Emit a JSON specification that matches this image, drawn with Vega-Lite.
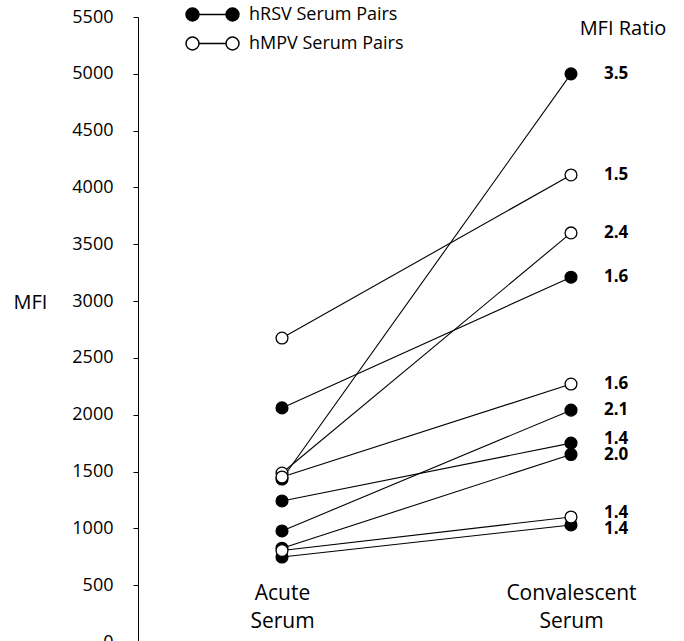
{
  "$schema": "https://vega.github.io/schema/vega-lite/v6.json",
  "width": 546,
  "height": 625,
  "autosize": "none",
  "padding": {"left": 138, "top": 17, "right": 0, "bottom": 0},
  "background": "white",
  "config": {"font": "Open Sans", "view": {"stroke": null}},
  "data": {"values": [
    {"pair": "R1", "series": "hRSV Serum Pairs", "stage": "Acute Serum", "mfi": 1434, "ratio": "3.5"},
    {"pair": "R1", "series": "hRSV Serum Pairs", "stage": "Convalescent Serum", "mfi": 5000, "ratio": "3.5"},
    {"pair": "R2", "series": "hRSV Serum Pairs", "stage": "Acute Serum", "mfi": 2060, "ratio": "1.6"},
    {"pair": "R2", "series": "hRSV Serum Pairs", "stage": "Convalescent Serum", "mfi": 3210, "ratio": "1.6"},
    {"pair": "R3", "series": "hRSV Serum Pairs", "stage": "Acute Serum", "mfi": 977, "ratio": "2.1"},
    {"pair": "R3", "series": "hRSV Serum Pairs", "stage": "Convalescent Serum", "mfi": 2040, "ratio": "2.1"},
    {"pair": "R4", "series": "hRSV Serum Pairs", "stage": "Acute Serum", "mfi": 1241, "ratio": "1.4"},
    {"pair": "R4", "series": "hRSV Serum Pairs", "stage": "Convalescent Serum", "mfi": 1750, "ratio": "1.4"},
    {"pair": "R5", "series": "hRSV Serum Pairs", "stage": "Acute Serum", "mfi": 825, "ratio": "2.0"},
    {"pair": "R5", "series": "hRSV Serum Pairs", "stage": "Convalescent Serum", "mfi": 1650, "ratio": "2.0"},
    {"pair": "R6", "series": "hRSV Serum Pairs", "stage": "Acute Serum", "mfi": 748, "ratio": "1.4"},
    {"pair": "R6", "series": "hRSV Serum Pairs", "stage": "Convalescent Serum", "mfi": 1030, "ratio": "1.4"},
    {"pair": "M1", "series": "hMPV Serum Pairs", "stage": "Acute Serum", "mfi": 2675, "ratio": "1.5"},
    {"pair": "M1", "series": "hMPV Serum Pairs", "stage": "Convalescent Serum", "mfi": 4110, "ratio": "1.5"},
    {"pair": "M2", "series": "hMPV Serum Pairs", "stage": "Acute Serum", "mfi": 1487, "ratio": "2.4"},
    {"pair": "M2", "series": "hMPV Serum Pairs", "stage": "Convalescent Serum", "mfi": 3600, "ratio": "2.4"},
    {"pair": "M3", "series": "hMPV Serum Pairs", "stage": "Acute Serum", "mfi": 1452, "ratio": "1.6"},
    {"pair": "M3", "series": "hMPV Serum Pairs", "stage": "Convalescent Serum", "mfi": 2270, "ratio": "1.6"},
    {"pair": "M4", "series": "hMPV Serum Pairs", "stage": "Acute Serum", "mfi": 805, "ratio": "1.4"},
    {"pair": "M4", "series": "hMPV Serum Pairs", "stage": "Convalescent Serum", "mfi": 1100, "ratio": "1.4"}
  ]},
  "encoding": {
    "x": {"field": "stage", "type": "nominal", "sort": ["Acute Serum", "Convalescent Serum"],
      "scale": {"type": "point", "range": [144, 433], "padding": 0},
      "axis": {"title": null, "domain": false, "ticks": false, "labelAngle": 0, "labelFontSize": 21, "labelColor": "black", "labelPadding": -43, "labelBaseline": "alphabetic", "labelLineHeight": 28, "labelExpr": "split(datum.label, ' ')"}},
    "y": {"field": "mfi", "type": "quantitative",
      "scale": {"domain": [0, 5500], "nice": false, "zero": true},
      "axis": {"values": [0, 500, 1000, 1500, 2000, 2500, 3000, 3500, 4000, 4500, 5000, 5500], "format": "d", "grid": false, "domainColor": "black", "domainWidth": 1, "tickColor": "black", "tickSize": 5, "labelPadding": 20, "labelFontSize": 18, "labelColor": "black", "labelFlush": false, "labelOverlap": false,
        "title": "MFI", "titleAngle": 0, "titleAlign": "left", "titleBaseline": "middle", "titleX": -125, "titleY": 285, "titleFontSize": 20, "titleFontWeight": "normal", "titleColor": "black"}}
  },
  "layer": [
    {"mark": {"type": "line", "color": "black", "strokeWidth": 1.1},
     "encoding": {"detail": {"field": "pair", "type": "nominal"}}},
    {"mark": {"type": "point", "shape": "circle", "filled": true, "size": 140, "stroke": "black", "strokeWidth": 1.3, "opacity": 1},
     "encoding": {"fill": {"field": "series", "type": "nominal",
       "scale": {"domain": ["hRSV Serum Pairs", "hMPV Serum Pairs"], "range": ["black", "white"]},
       "legend": {"title": null, "orient": "none", "legendX": 47, "legendY": -17, "padding": 0,
         "symbolType": "M-0.51,0L0.51,0M-0.51,0A0.245,0.245,0,1,1,-1,0A0.245,0.245,0,1,1,-0.51,0ZM1,0A0.245,0.245,0,1,1,0.51,0A0.245,0.245,0,1,1,1,0Z",
         "symbolSize": 2809, "symbolStrokeColor": "black", "symbolStrokeWidth": 1.5, "labelFontSize": 18, "labelColor": "black", "labelOffset": 9, "labelLimit": 300, "rowPadding": 0, "clipHeight": 29}}}},
    {"transform": [{"filter": "datum.stage == 'Convalescent Serum' && datum.pair != 'R4' && datum.pair != 'R6' && datum.pair != 'M4'"}],
     "mark": {"type": "text", "align": "left", "baseline": "middle", "dx": 33, "fontSize": 17, "fontWeight": "bold", "color": "black"},
     "encoding": {"text": {"field": "ratio"}}},
    {"transform": [{"filter": "datum.stage == 'Convalescent Serum' && (datum.pair == 'R4' || datum.pair == 'M4')"}],
     "mark": {"type": "text", "align": "left", "baseline": "middle", "dx": 33, "dy": -4, "fontSize": 17, "fontWeight": "bold", "color": "black"},
     "encoding": {"text": {"field": "ratio"}}},
    {"transform": [{"filter": "datum.stage == 'Convalescent Serum' && datum.pair == 'R6'"}],
     "mark": {"type": "text", "align": "left", "baseline": "middle", "dx": 33, "dy": 4, "fontSize": 17, "fontWeight": "bold", "color": "black"},
     "encoding": {"text": {"field": "ratio"}}},
    {"transform": [{"filter": "datum.stage == 'Convalescent Serum' && datum.pair == 'R1'"}],
     "mark": {"type": "text", "align": "center", "baseline": "middle", "dx": 52, "fontSize": 20, "fontWeight": "normal", "color": "black"},
     "encoding": {"y": {"datum": 5395}, "text": {"value": "MFI Ratio"}}}
  ]
}
